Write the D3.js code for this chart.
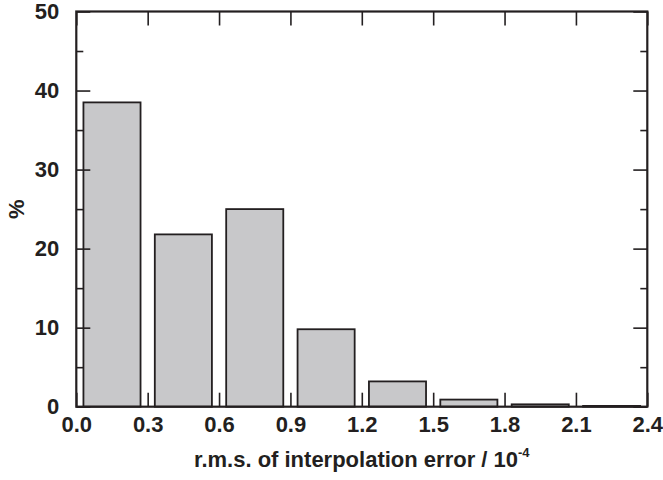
<!DOCTYPE html>
<html>
<head>
<meta charset="utf-8">
<script src="https://cdn.jsdelivr.net/npm/d3@7"></script>
<style>
  body { margin: 0; background: #fff; }
  svg text { font-family: "Liberation Sans", Arial, sans-serif; font-weight: bold; fill: #231f20; }
</style>
</head>
<body>
<script>
// histogram bins (lower edge, in units of 10^-4) and share of cases in %
var binStarts = [0.0, 0.3, 0.6, 0.9, 1.2, 1.5, 1.8, 2.1];
var binWidth = 0.3;
var percents = [38.5, 21.8, 25.0, 9.8, 3.2, 0.9, 0.3, 0.1];
var xTicks = [0.0, 0.3, 0.6, 0.9, 1.2, 1.5, 1.8, 2.1, 2.4];
var yTicks = [0, 10, 20, 30, 40, 50];
var yMinorTicks = [5, 15, 25, 35, 45];

var W = 663, H = 480;
var margin = {top: 11.5, right: 15.7, bottom: 73.3, left: 76.3},
    width = W - margin.left - margin.right,
    height = H - margin.top - margin.bottom;

var ink = "#231f20";

var svg = d3.select("body").append("svg")
    .attr("width", W)
    .attr("height", H);

var g = svg.append("g")
    .attr("transform", "translate(" + margin.left + "," + margin.top + ")");

var x = d3.scaleLinear().domain([0, 2.4]).range([0, width]);
var y = d3.scaleLinear().domain([0, 50]).range([height, 0]);

// bars, 80% of the bin width, centred in the bin
g.selectAll("rect.bar")
    .data(binStarts)
    .enter().append("rect")
    .attr("class", "bar")
    .attr("x", function(d) { return x(d + binWidth * 0.1); })
    .attr("width", function(d) { return x(d + binWidth * 0.9) - x(d + binWidth * 0.1); })
    .attr("y", function(d, i) { return y(percents[i]); })
    .attr("height", function(d, i) { return y(0) - y(percents[i]); })
    .attr("fill", "#c8c8ca")
    .attr("stroke", ink)
    .attr("stroke-width", 1.8);

function styleAxis(sel) {
    sel.select(".domain").remove();
    sel.selectAll(".tick line").attr("stroke", ink).attr("stroke-width", 1.6);
    sel.selectAll(".tick text").style("font-size", "22px").attr("fill", ink);
}

// bottom axis with labels, ticks pointing in
g.append("g")
    .attr("transform", "translate(0," + height + ")")
    .call(d3.axisBottom(x).tickValues(xTicks).tickSize(-14).tickPadding(10).tickFormat(d3.format(".1f")))
    .call(styleAxis);

// top axis, ticks only
g.append("g")
    .call(d3.axisTop(x).tickValues(xTicks).tickSize(-14).tickFormat(""))
    .call(styleAxis);

// left axis with labels
g.append("g")
    .call(d3.axisLeft(y).tickValues(yTicks).tickSize(-14).tickPadding(17).tickFormat(d3.format("d")))
    .call(styleAxis);

g.append("g")
    .call(d3.axisLeft(y).tickValues(yMinorTicks).tickSize(-7).tickFormat(""))
    .call(styleAxis);

// right axis, ticks only
g.append("g")
    .attr("transform", "translate(" + width + ",0)")
    .call(d3.axisRight(y).tickValues(yTicks).tickSize(-14).tickFormat(""))
    .call(styleAxis);

g.append("g")
    .attr("transform", "translate(" + width + ",0)")
    .call(d3.axisRight(y).tickValues(yMinorTicks).tickSize(-7).tickFormat(""))
    .call(styleAxis);

// frame
g.append("rect")
    .attr("width", width)
    .attr("height", height)
    .attr("fill", "none")
    .attr("stroke", ink)
    .attr("stroke-width", 2.2);

// axis titles
var xt = svg.append("text")
    .attr("x", margin.left + width / 2)
    .attr("y", 467)
    .attr("text-anchor", "middle")
    .style("font-size", "22px");
xt.append("tspan").text("r.m.s. of interpolation error / 10");
xt.append("tspan").attr("dy", -10).style("font-size", "13px").text("-4");

svg.append("text")
    .attr("transform", "translate(24," + (margin.top + height / 2) + ") rotate(-90)")
    .attr("text-anchor", "middle")
    .style("font-size", "22px")
    .text("%");
</script>
</body>
</html>
